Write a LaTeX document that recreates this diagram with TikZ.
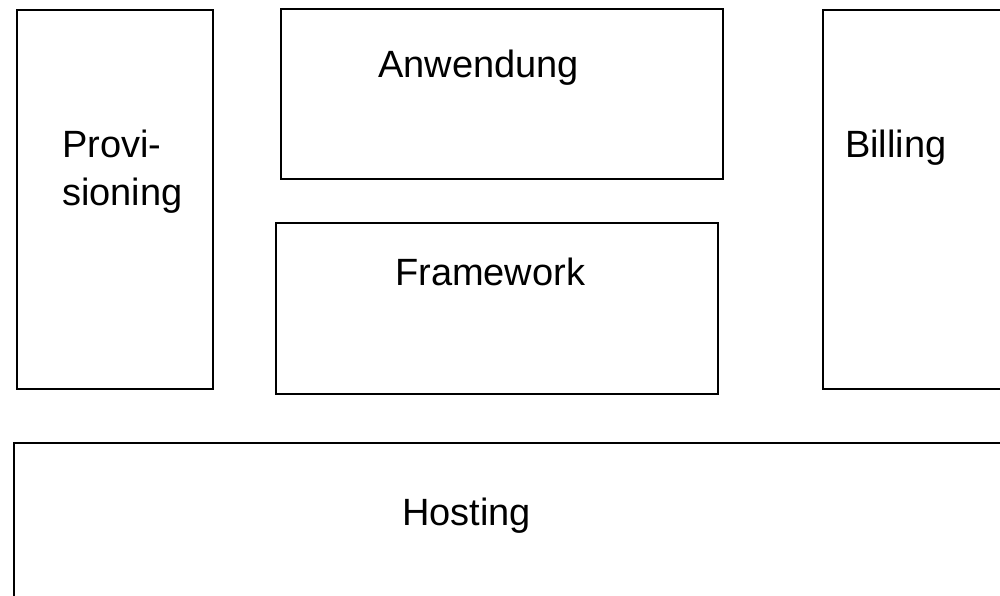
\documentclass[tikz,border=0pt]{standalone}
\usepackage{fontspec}
\setmainfont{Liberation Sans}
\begin{document}
\begin{tikzpicture}[x=1pt,y=-1pt,
  blk/.style={draw=black,line width=2.2pt},
  lbl/.style={inner sep=0pt,anchor=base west,font=\fontsize{38}{48}\selectfont}]
\useasboundingbox (0,0) rectangle (1000,596);
\clip (0,0) rectangle (1000,596);
\draw[blk] (17,10) rectangle (213,389);
\draw[blk] (281,9) rectangle (723,179);
\draw[blk] (276,223) rectangle (718,394);
\draw[blk] (823,10) rectangle (1012,389);
\draw[blk] (14,443) rectangle (1012,610);
\node[lbl,align=left] (prov) at (62,205) {Provi-\\sioning};
\node[lbl] (anw) at (378,78) {Anwendung};
\node[lbl] (fw) at (395,285) {Framework};
\node[lbl] (bill) at (845,158) {Billing};
\node[lbl] (host) at (402,525) {Hosting};
\end{tikzpicture}
\end{document}
